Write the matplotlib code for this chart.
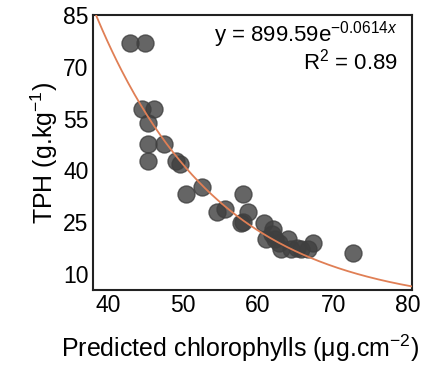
import numpy as np
import matplotlib.pyplot as plt

plt.rcParams['font.family'] = ['Liberation Sans', 'DejaVu Sans']
plt.rcParams['mathtext.fontset'] = 'custom'
plt.rcParams['mathtext.rm'] = 'Liberation Sans'
plt.rcParams['mathtext.it'] = 'Liberation Sans:italic'

# predicted chlorophylls vs TPH
chl = [43.0, 44.9, 44.6, 46.1, 45.3, 45.3, 47.5, 45.3, 49.1, 49.6,
       50.4, 52.6, 54.6, 55.6, 58.0, 58.6, 57.8, 58.0, 60.8, 62.0,
       61.1, 62.2, 62.8, 64.0, 63.1, 64.4, 65.7, 66.6, 67.3, 72.6,
       61.8, 65.2]
tph = [76.8, 76.8, 57.9, 57.9, 53.8, 47.7, 47.7, 42.8, 42.7, 41.9,
       33.2, 35.1, 28.1, 28.8, 33.2, 28.1, 24.9, 25.0, 24.9, 23.0,
       20.1, 20.1, 19.1, 20.1, 17.2, 17.2, 17.2, 17.2, 19.1, 16.0,
       21.5, 17.5]

a, b = 899.59, -0.0614
xticks = [40, 50, 60, 70, 80]
yticks = [10, 25, 40, 55, 70, 85]

fig = plt.figure(figsize=(4.42, 3.67), dpi=100)
ax = fig.add_axes([0.210, 0.21, 0.722, 0.749])

ax.scatter(chl, tph, s=150, color='#3f3f3f', alpha=0.8, edgecolors='#3f3f3f', zorder=2)
xs = np.linspace(38, 80.5, 200)
ax.plot(xs, a * np.exp(b * xs), color='#e07f55', lw=1.3, zorder=3)

ax.set_xlim(38, 80.5)
ax.set_ylim(5.4, 85)
ax.set_xticks(xticks)
ax.set_yticks(yticks)
ax.tick_params(length=0, labelsize=16.5, pad=3)
for s in ax.spines.values():
    s.set_linewidth(1.5)
    s.set_color('#222222')

ax.text(0.955, 0.93, r'y = 899.59e$^{-0.0614\mathit{x}}$', transform=ax.transAxes,
        ha='right', va='center', fontsize=16)
ax.text(0.955, 0.83, r'R$^2$ = 0.89', transform=ax.transAxes,
        ha='right', va='center', fontsize=16)

ax.set_xlabel(r'Predicted chlorophylls (μg.cm$^{-2}$)', fontsize=18, labelpad=9)
ax.xaxis.set_label_coords(0.46, -0.155)
ax.set_ylabel(r'TPH (g.kg$^{-1}$)', fontsize=18, labelpad=2)

fig.savefig('out.png', dpi=100)
